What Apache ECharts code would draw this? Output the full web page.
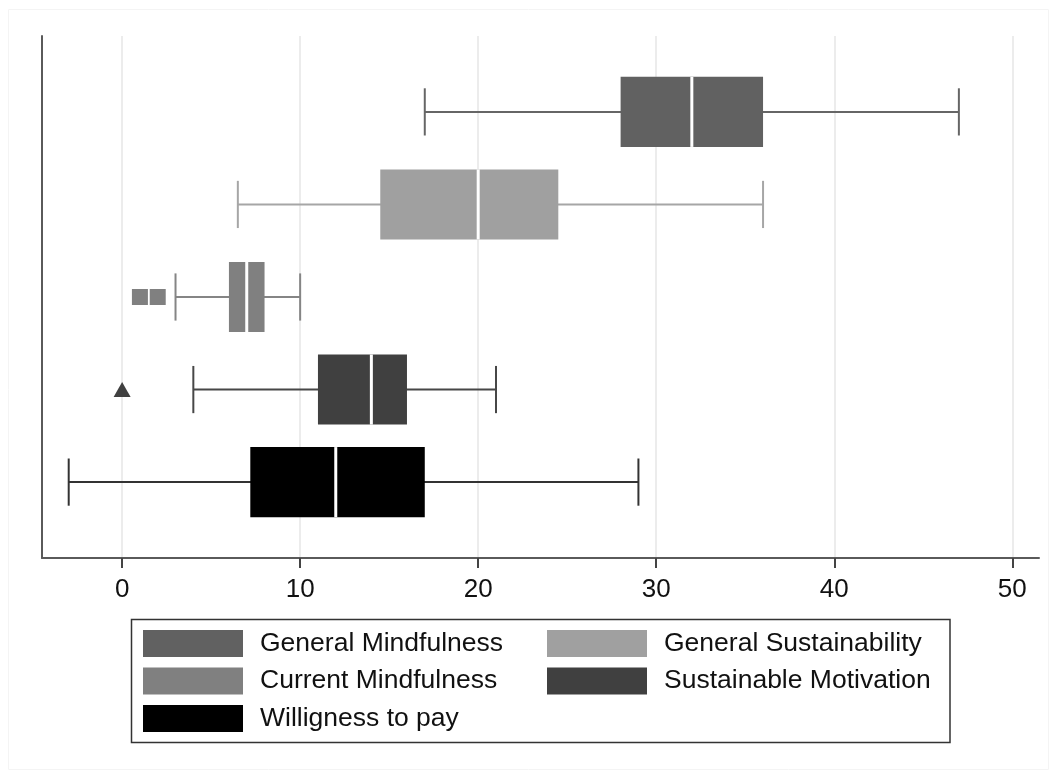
<!DOCTYPE html>
<html lang="en">
<head>
    <meta charset="UTF-8">
    <title>boxplot</title>
    <style>
        * {
            margin: 0;
            padding: 0;
            box-sizing: border-box;
        }

        .chart {
            width: 1053px;
            height: 772px;
            background: #fff;
        }
    </style>
</head>
<body>
<div class="chart" id="chart"></div>

<script src="https://cdn.jsdelivr.net/npm/echarts@6.0.0/dist/echarts.min.js"></script>
<script>
    // names from top to bottom
    const names = ['General Mindfulness', 'General Sustainability', 'Current Mindfulness', 'Sustainable Motivation', 'Willigness to pay']
    // [min, q1, median, q3, max]
    const generalMindfulness = [17, 28, 32, 36, 47]
    const generalSustainability = [6.5, 14.5, 20, 24.5, 36]
    const currentMindfulness = [3, 6, 7, 8, 10]
    const sustainableMotivation = [4, 11, 14, 16, 21]
    const willingnessToPay = [-3, 7.2, 12, 17, 29]
    // outliers
    const currentMindfulnessOut = [1, 2]
    const sustainableMotivationOut = [0]
    const xTicks = [0, 10, 20, 30, 40, 50]

    const boxes = [generalMindfulness, generalSustainability, currentMindfulness, sustainableMotivation, willingnessToPay]
    const fills = ['#616161', '#a0a0a0', '#808080', '#404040', '#000000']
    const whiskerColors = ['#666666', '#a6a6a6', '#858585', '#474747', '#333333']

    const myChart = echarts.init(document.getElementById('chart'))

    // y position: top box = 5, bottom box = 1
    function renderBox(params, api) {
        const y = api.value(0)
        const band = api.size([0, 1])[1]
        const boxH = band * 0.757
        const capH = band * 0.51
        const p = [1, 2, 3, 4, 5].map(i => api.coord([api.value(i), y]))
        const cy = p[0][1]
        const idx = params.seriesIndex
        const lineStyle = { stroke: whiskerColors[idx], lineWidth: 2 }
        return {
            type: 'group',
            children: [
                { type: 'line', shape: { x1: p[0][0], y1: cy, x2: p[4][0], y2: cy }, style: lineStyle },
                { type: 'line', shape: { x1: p[0][0], y1: cy - capH / 2, x2: p[0][0], y2: cy + capH / 2 }, style: lineStyle },
                { type: 'line', shape: { x1: p[4][0], y1: cy - capH / 2, x2: p[4][0], y2: cy + capH / 2 }, style: lineStyle },
                { type: 'rect', shape: { x: p[1][0], y: cy - boxH / 2, width: p[3][0] - p[1][0], height: boxH }, style: { fill: fills[idx] } },
                { type: 'line', shape: { x1: p[2][0], y1: cy - boxH / 2, x2: p[2][0], y2: cy + boxH / 2 }, style: { stroke: '#ffffff', lineWidth: 3 } }
            ]
        }
    }

    const series = names.map((name, i) => ({
        name: name,
        type: 'custom',
        renderItem: renderBox,
        itemStyle: { color: fills[i] },
        encode: { x: [1, 2, 3, 4, 5], y: 0 },
        data: [[5 - i].concat(boxes[i])],
        z: 3
    }))

    series.push({
        type: 'scatter',
        symbol: 'rect',
        symbolSize: 16,
        itemStyle: { color: fills[2], opacity: 1 },
        data: currentMindfulnessOut.map(v => [v, 3]),
        z: 4
    })
    series.push({
        type: 'scatter',
        symbol: 'triangle',
        symbolSize: [17, 15],
        itemStyle: { color: fills[3], opacity: 1 },
        data: sustainableMotivationOut.map(v => [v, 2]),
        z: 4
    })

    const legendCommon = {
        orient: 'vertical',
        top: 630,
        padding: 0,
        itemWidth: 100,
        itemHeight: 27,
        itemGap: 10.5,
        icon: 'rect',
        selectedMode: false,
        textStyle: {
            fontFamily: 'Liberation Sans, Arial, sans-serif',
            fontSize: 26.5,
            color: '#111',
            padding: [2, 0, 0, 12]
        }
    }

    const option = {
        animation: false,
        grid: { left: 42, right: 14, top: 36, bottom: 214 },
        legend: [
            Object.assign({}, legendCommon, { left: 143, data: [names[0], names[2], names[4]] }),
            Object.assign({}, legendCommon, { left: 547, data: [names[1], names[3]] })
        ],
        graphic: [
            {
                type: 'rect',
                shape: { x: 131.5, y: 619.5, width: 818.5, height: 123 },
                style: { fill: null, stroke: '#333', lineWidth: 1.5 },
                silent: true
            },
            {
                type: 'rect',
                shape: { x: 8.5, y: 9.5, width: 1040, height: 760 },
                style: { fill: null, stroke: '#f4f4f4', lineWidth: 1 },
                silent: true,
                z: -1
            }
        ],
        xAxis: {
            type: 'value',
            min: -4.5,
            max: 51.5,
            axisLine: { show: true, onZero: false, lineStyle: { color: '#5a5a5a', width: 2 } },
            axisTick: { show: true, length: 10, customValues: xTicks, lineStyle: { color: '#444', width: 2 } },
            axisLabel: {
                customValues: xTicks,
                margin: 19,
                fontFamily: 'Liberation Sans, Arial, sans-serif',
                fontSize: 26,
                color: '#111'
            },
            splitLine: { show: true, lineStyle: { color: '#e6e6e6', width: 1.5 } }
        },
        yAxis: {
            type: 'value',
            min: 0.18,
            max: 5.82,
            axisLine: { show: true, onZero: false, lineStyle: { color: '#5a5a5a', width: 2 } },
            axisTick: { show: false },
            axisLabel: { show: false },
            splitLine: { show: false }
        },
        series: series
    }

    myChart.setOption(option)
</script>
</body>
</html>
